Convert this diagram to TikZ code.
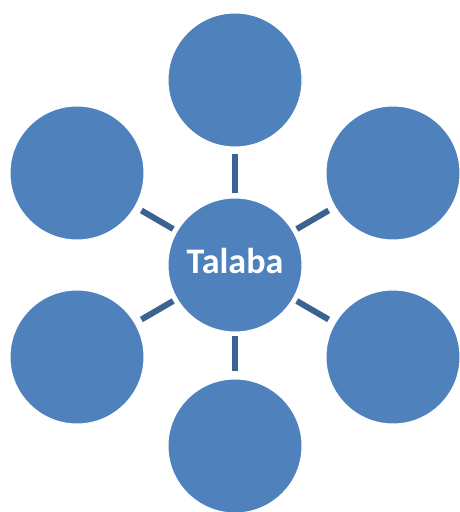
\documentclass[tikz,border=0pt]{standalone}
\usepackage{fontspec}
\setmainfont{Carlito}
\definecolor{bubblefill}{HTML}{4F81BD}
\definecolor{linkcol}{HTML}{3A6391}
\tikzset{
  bubble/.style={circle, fill=bubblefill, draw=white, line width=1pt, minimum size=134pt, inner sep=0pt},
  link/.style={draw=linkcol, line width=6pt, shorten <=4pt, shorten >=7pt},
  hubtext/.style={text=white, font=\fontsize{36pt}{40pt}\selectfont\bfseries}
}
\begin{document}
\begin{tikzpicture}[x=1pt,y=1pt]
\useasboundingbox (0,0) rectangle (459,512);
\node[bubble] (c) at (235,247) {};
\node[hubtext, anchor=base] (ct) at (235,238) {Talaba};
\node[bubble] (t) at (235,432) {};
\node[bubble] (b) at (235,66) {};
\node[bubble] (lu) at (77,339) {};
\node[bubble] (ru) at (393,339) {};
\node[bubble] (ll) at (77,155) {};
\node[bubble] (rl) at (393,155) {};
\foreach \n in {t,b,lu,ru,ll,rl} { \draw[link] (c) -- (\n); }
\end{tikzpicture}
\end{document}
